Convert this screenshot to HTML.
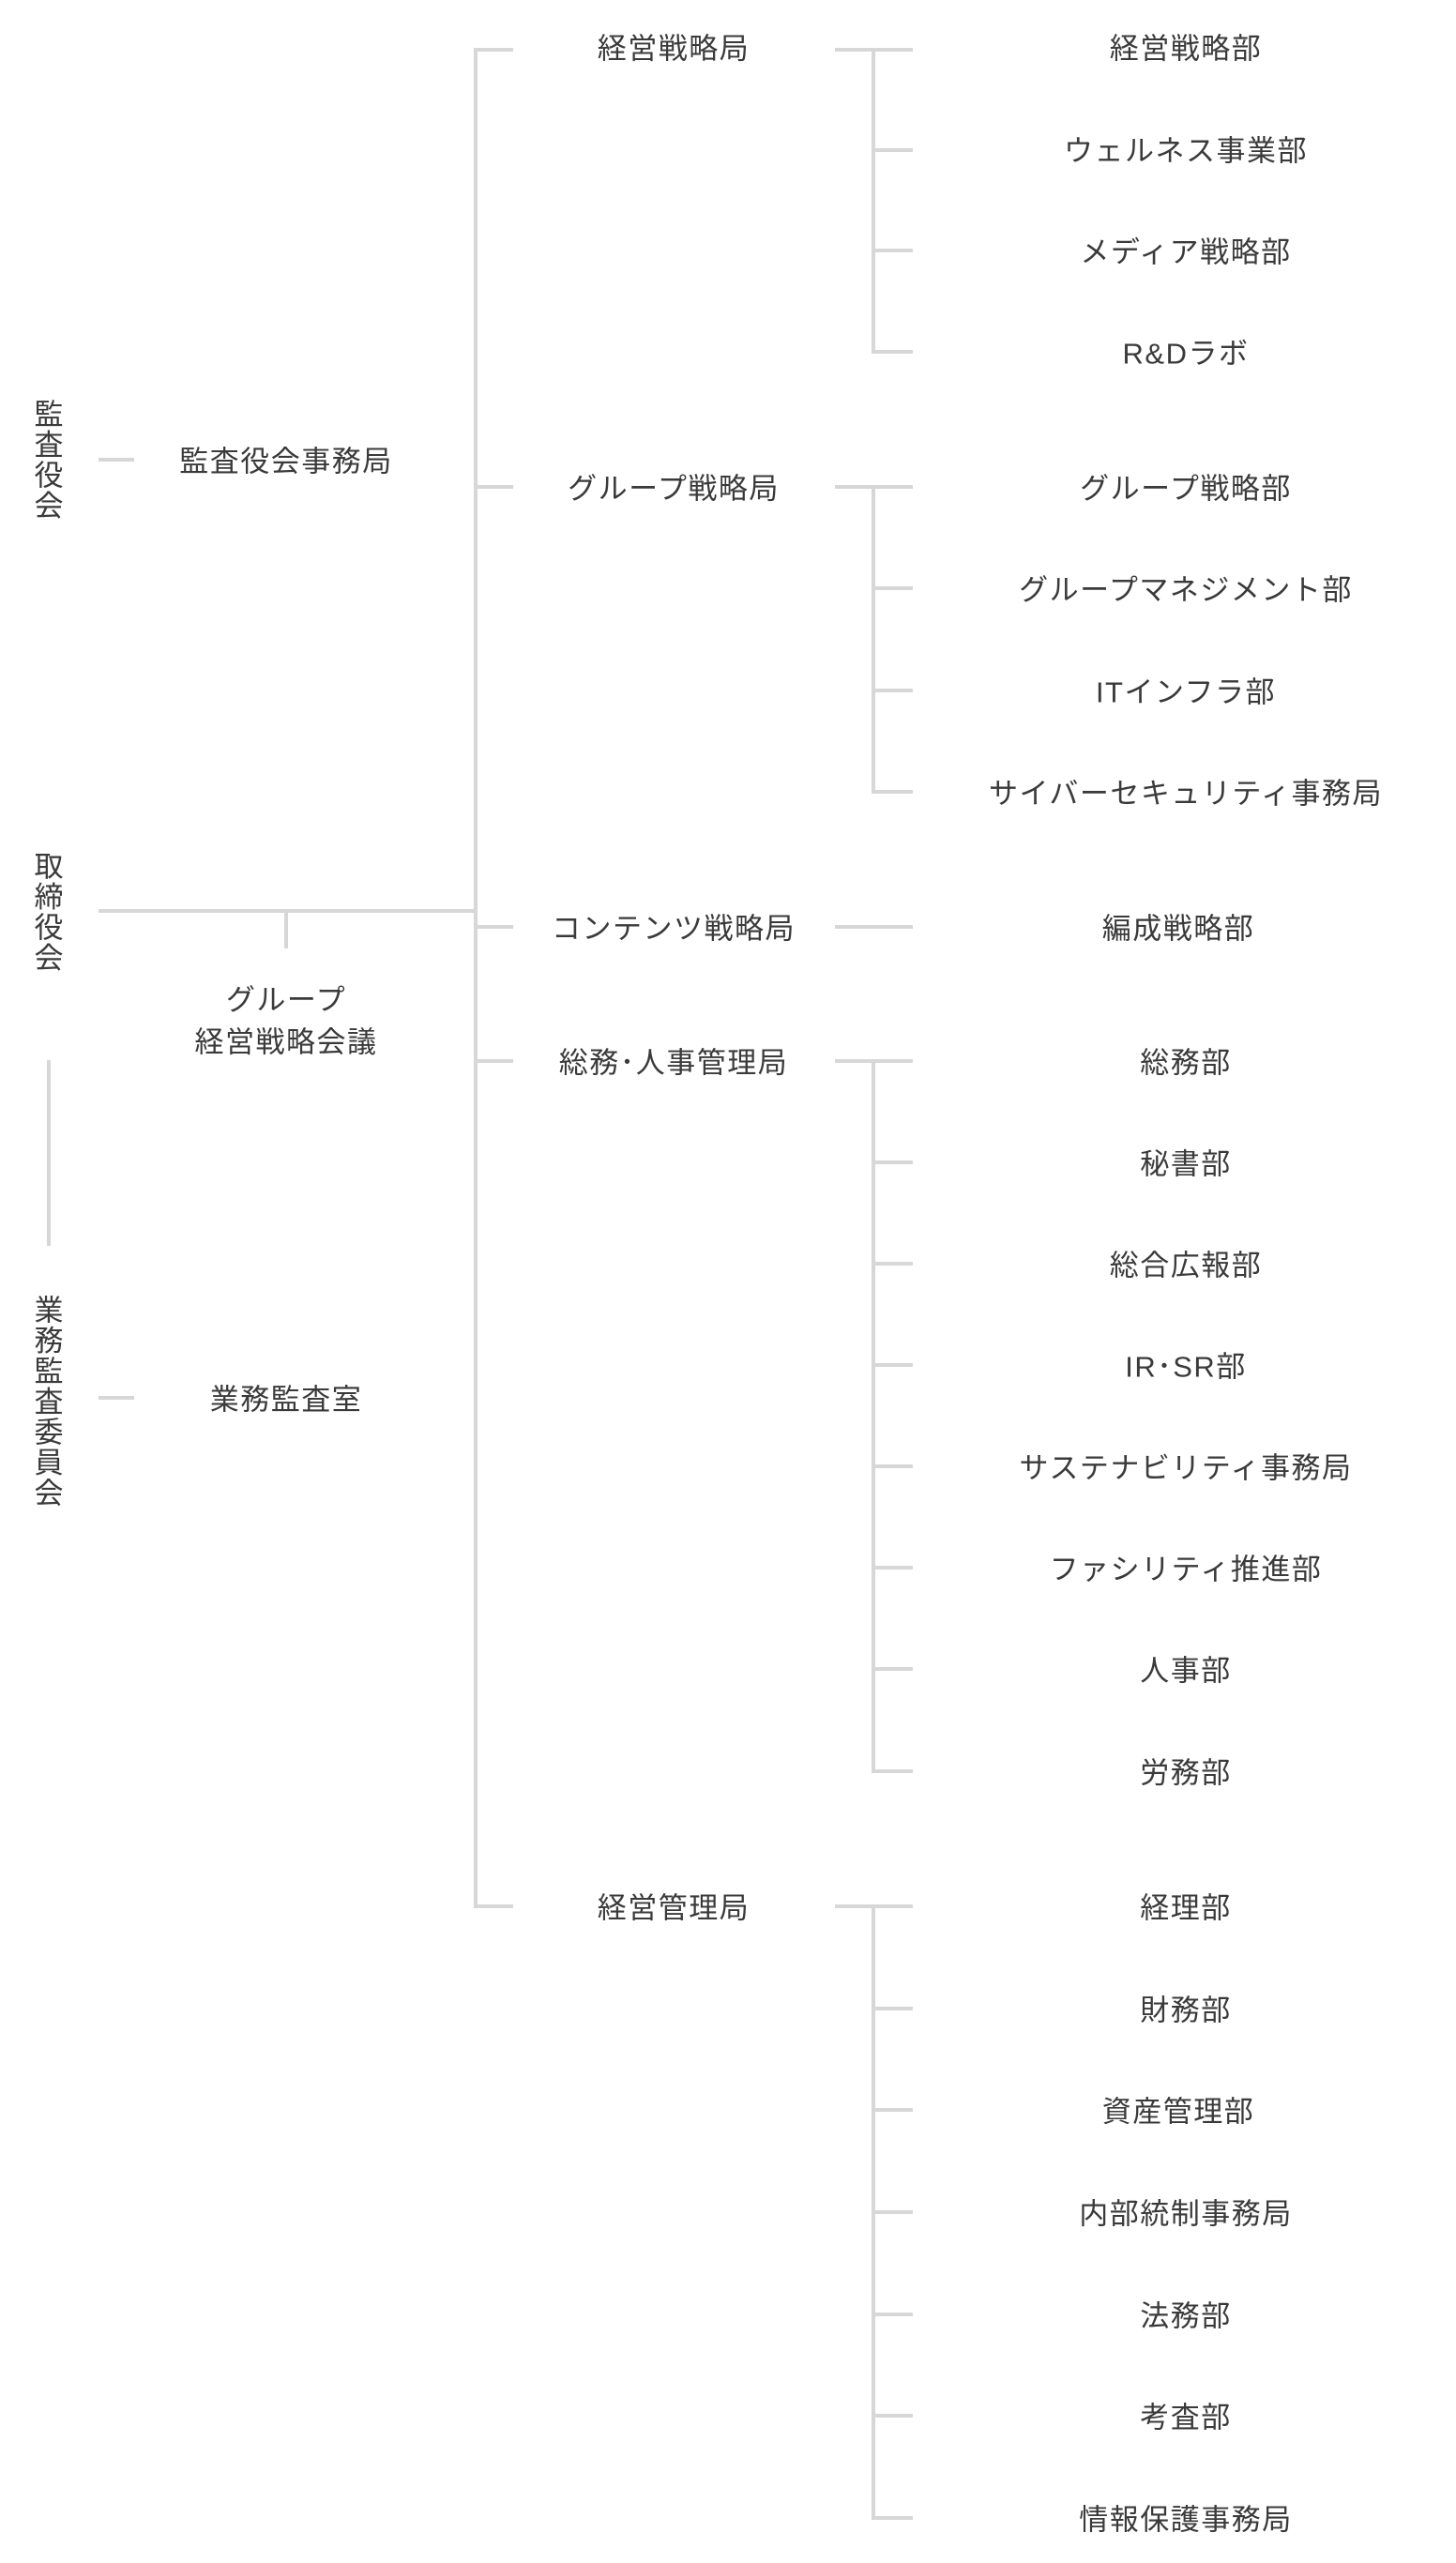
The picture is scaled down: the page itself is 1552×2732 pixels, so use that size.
<!DOCTYPE html>
<html><head><meta charset="utf-8">
<style>
html,body{margin:0;padding:0;background:#fff;}
body{width:1552px;height:2732px;position:relative;overflow:hidden;font-family:"Liberation Sans","Noto Sans CJK JP",sans-serif;color:#3a3a3a;}
svg{position:absolute;left:0;top:0;}
.t{position:absolute;font-size:31px;letter-spacing:1.5px;white-space:nowrap;transform:translate(-50%,-50%);line-height:1;}
.v{position:absolute;font-size:31px;writing-mode:vertical-rl;letter-spacing:1.5px;transform:translate(-50%,-50%);line-height:1;white-space:nowrap;}
</style></head><body>
<svg width="1552" height="2732" stroke="#d7d7d7" stroke-width="4" fill="none">
<line x1="507" y1="52" x2="507" y2="2034"/>
<line x1="505" y1="53" x2="547" y2="53"/>
<line x1="507" y1="519" x2="547" y2="519"/>
<line x1="507" y1="988" x2="547" y2="988"/>
<line x1="507" y1="1131" x2="547" y2="1131"/>
<line x1="505" y1="2032" x2="547" y2="2032"/>
<line x1="105" y1="971" x2="507" y2="971"/>
<line x1="305" y1="971" x2="305" y2="1011"/>
<line x1="105" y1="490" x2="143" y2="490"/>
<line x1="105" y1="1490" x2="143" y2="1490"/>
<line x1="52" y1="1130" x2="52" y2="1328"/>
<line x1="890" y1="53" x2="973" y2="53"/>
<line x1="931" y1="53" x2="931" y2="377"/>
<line x1="931" y1="160" x2="973" y2="160"/>
<line x1="931" y1="267" x2="973" y2="267"/>
<line x1="929" y1="375" x2="973" y2="375"/>
<line x1="890" y1="519" x2="973" y2="519"/>
<line x1="931" y1="519" x2="931" y2="846"/>
<line x1="931" y1="627" x2="973" y2="627"/>
<line x1="931" y1="736" x2="973" y2="736"/>
<line x1="929" y1="844" x2="973" y2="844"/>
<line x1="890" y1="988" x2="973" y2="988"/>
<line x1="890" y1="1131" x2="973" y2="1131"/>
<line x1="931" y1="1131" x2="931" y2="1890"/>
<line x1="931" y1="1239" x2="973" y2="1239"/>
<line x1="931" y1="1347" x2="973" y2="1347"/>
<line x1="931" y1="1455" x2="973" y2="1455"/>
<line x1="931" y1="1563" x2="973" y2="1563"/>
<line x1="931" y1="1671" x2="973" y2="1671"/>
<line x1="931" y1="1779" x2="973" y2="1779"/>
<line x1="929" y1="1888" x2="973" y2="1888"/>
<line x1="890" y1="2032" x2="973" y2="2032"/>
<line x1="931" y1="2032" x2="931" y2="2686"/>
<line x1="931" y1="2141" x2="973" y2="2141"/>
<line x1="931" y1="2249" x2="973" y2="2249"/>
<line x1="931" y1="2358" x2="973" y2="2358"/>
<line x1="931" y1="2467" x2="973" y2="2467"/>
<line x1="931" y1="2575" x2="973" y2="2575"/>
<line x1="929" y1="2684" x2="973" y2="2684"/>
</svg>

<div class="v" style="left:49px;top:490px">監査役会</div>
<div class="v" style="left:49px;top:972px">取締役会</div>
<div class="v" style="left:49px;top:1494px">業務監査委員会</div>

<div class="t" style="left:305px;top:492px">監査役会事務局</div>
<div class="t" style="left:305px;top:1066px">グループ</div>
<div class="t" style="left:305px;top:1111px">経営戦略会議</div>
<div class="t" style="left:305px;top:1492px">業務監査室</div>

<div class="t" style="left:718px;top:52px">経営戦略局</div>
<div class="t" style="left:718px;top:521px">グループ戦略局</div>
<div class="t" style="left:718px;top:990px">コンテンツ戦略局</div>
<div class="t" style="left:718px;top:1133px">総務･人事管理局</div>
<div class="t" style="left:718px;top:2034px">経営管理局</div>

<div class="t" style="left:1264px;top:52px">経営戦略部</div>
<div class="t" style="left:1264px;top:161px">ウェルネス事業部</div>
<div class="t" style="left:1264px;top:269px">メディア戦略部</div>
<div class="t" style="left:1264px;top:377px">R&amp;Dラボ</div>
<div class="t" style="left:1264px;top:521px">グループ戦略部</div>
<div class="t" style="left:1264px;top:629px">グループマネジメント部</div>
<div class="t" style="left:1264px;top:738px">ITインフラ部</div>
<div class="t" style="left:1264px;top:846px">サイバーセキュリティ事務局</div>
<div class="t" style="left:1256px;top:990px">編成戦略部</div>
<div class="t" style="left:1264px;top:1133px">総務部</div>
<div class="t" style="left:1264px;top:1241px">秘書部</div>
<div class="t" style="left:1264px;top:1349px">総合広報部</div>
<div class="t" style="left:1264px;top:1457px">IR･SR部</div>
<div class="t" style="left:1264px;top:1565px">サステナビリティ事務局</div>
<div class="t" style="left:1264px;top:1673px">ファシリティ推進部</div>
<div class="t" style="left:1264px;top:1781px">人事部</div>
<div class="t" style="left:1264px;top:1890px">労務部</div>
<div class="t" style="left:1264px;top:2034px">経理部</div>
<div class="t" style="left:1264px;top:2143px">財務部</div>
<div class="t" style="left:1256px;top:2251px">資産管理部</div>
<div class="t" style="left:1264px;top:2360px">内部統制事務局</div>
<div class="t" style="left:1264px;top:2469px">法務部</div>
<div class="t" style="left:1264px;top:2577px">考査部</div>
<div class="t" style="left:1264px;top:2686px">情報保護事務局</div>
</body></html>
